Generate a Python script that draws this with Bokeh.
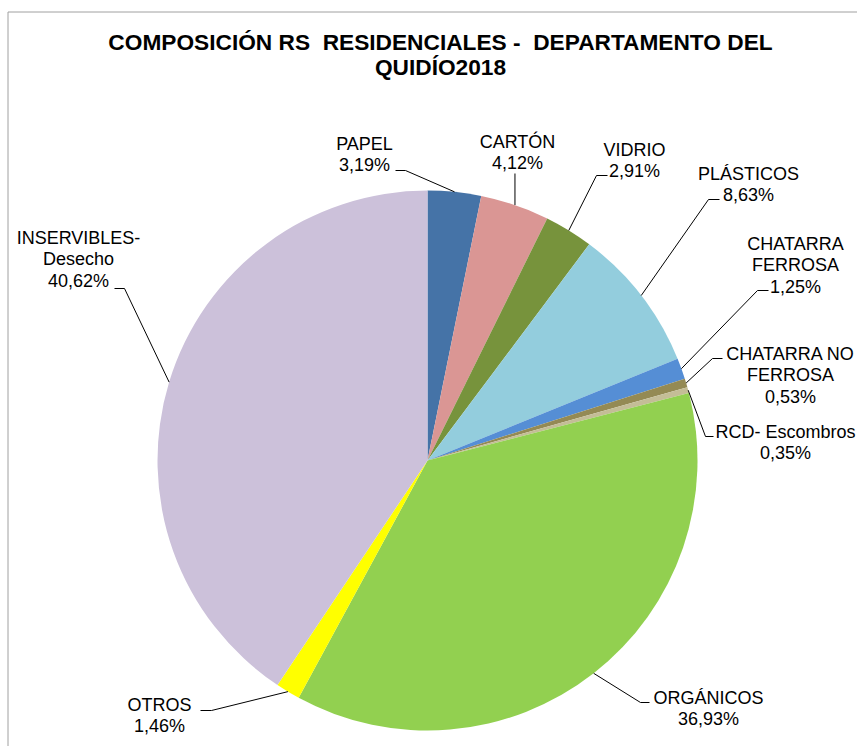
import math
from bokeh.plotting import figure
from bokeh.models import Range1d, ColumnDataSource
from bokeh.core.properties import value
from bokeh.embed import file_html
from bokeh.resources import INLINE

# ---------------- data ----------------
categories = ["PAPEL", "CARTÓN", "VIDRIO", "PLÁSTICOS", "CHATARRA FERROSA",
              "CHATARRA NO FERROSA", "RCD- Escombros", "ORGÁNICOS", "OTROS",
              "INSERVIBLES-Desecho"]
percentages = [3.19, 4.12, 2.91, 8.63, 1.25, 0.53, 0.35, 36.93, 1.46, 40.62]
label_lines = [["PAPEL"], ["CARTÓN"], ["VIDRIO"], ["PLÁSTICOS"],
               ["CHATARRA", "FERROSA"], ["CHATARRA NO", "FERROSA"],
               ["RCD- Escombros"], ["ORGÁNICOS"], ["OTROS"],
               ["INSERVIBLES-", "Desecho"]]
colors = ["#4573A7", "#DA9694", "#77933C", "#93CDDD", "#558ED5",
          "#948A54", "#C4BD97", "#92D050", "#FFFF00", "#CCC1DA"]
title_lines = ["COMPOSICIÓN RS \u00a0RESIDENCIALES - \u00a0DEPARTAMENTO DEL", "QUIDÍO2018"]

# ---------------- layout (screen pixel coordinates) ----------------
W, H = 857, 746
def dx(X):
    return X
def dy(Y):
    return H - Y

CX, CY, R = 427, 460, 270
LINE_H = 21.5
TEXT_SHIFT = 6
# label centre x, first baseline, leader elbow/dash points (screen coords)
label_layout = [
    (364, 149, [(405, 170), (395, 170)]),
    (517, 147, None),
    (634, 155, [(596, 175), (607, 175)]),
    (748, 179, [(708, 199), (719, 199)]),
    (795, 249, [(757, 290), (768, 290)]),
    (790, 359, [(712, 358), (722, 358)]),
    (785, 437, [(705, 436), (713, 436)]),
    (708, 703, [(640, 702), (649, 702)]),
    (159, 710, [(211, 710), (200, 710)]),
    (78, 243, [(124, 288), (114, 288)]),
]

p = figure(width=W, height=H, output_backend="svg", toolbar_location=None,
           x_range=Range1d(0, W), y_range=Range1d(0, H),
           x_axis_location=None, y_axis_location=None, min_border=0)
p.grid.visible = False
p.outline_line_color = None
p.background_fill_color = "white"
p.border_fill_color = "white"

# wedges
total = sum(percentages)
starts, ends, mids = [], [], []
cum = 0.0
for v in percentages:
    a0 = math.pi / 2 - 2 * math.pi * cum / total
    cum += v
    a1 = math.pi / 2 - 2 * math.pi * cum / total
    starts.append(a0)
    ends.append(a1)
    mids.append((a0 + a1) / 2)

src = ColumnDataSource(dict(start=starts, end=ends, color=colors, cat=categories))
p.wedge(x=dx(CX), y=dy(CY), radius=R, start_angle="start", end_angle="end",
        direction="clock", fill_color="color", line_color=None, source=src)

# leader lines and labels
lxs, lys = [], []
tx, ty, tt = [], [], []
for i, (cat, v) in enumerate(zip(categories, percentages)):
    m = mids[i]
    px = CX + R * math.cos(m)
    py = CY - R * math.sin(m)
    cxl, base, pts = label_layout[i]
    if pts is None:
        path = [(px, py), (px, 173)]
    else:
        path = [(px, py)] + pts
    lxs.append([dx(a) for a, b in path])
    lys.append([dy(b) for a, b in path])
    lines = label_lines[i] + [f"{v:.2f}".replace(".", ",") + "%"]
    for k, ln in enumerate(lines):
        tx.append(dx(cxl))
        ty.append(dy(base - TEXT_SHIFT + k * LINE_H))
        tt.append(ln)

p.multi_line(xs=lxs, ys=lys, line_color="black", line_width=1)
tsrc = ColumnDataSource(dict(x=tx, y=ty, t=tt))
p.text(x="x", y="y", text="t", source=tsrc, text_align="center",
       text_baseline="alphabetic", text_font=value("Liberation Sans"),
       text_font_size=value("18px"), text_color="black")

# title
ttl = ColumnDataSource(dict(x=[dx(440), dx(440)], y=[dy(41), dy(66)], t=title_lines))
p.text(x="x", y="y", text="t", source=ttl, text_align="center",
       text_baseline="alphabetic", text_font=value("Liberation Sans"),
       text_font_style="bold", text_font_size=value("22.7px"), text_color="black")

# chart-area border (left and top edges visible in the reference)
p.line(x=[7.5, 7.5, W], y=[0, dy(11.5), dy(11.5)], line_color="#A0A0A0", line_width=1)

open("out.html", "w").write(file_html(p, INLINE))
